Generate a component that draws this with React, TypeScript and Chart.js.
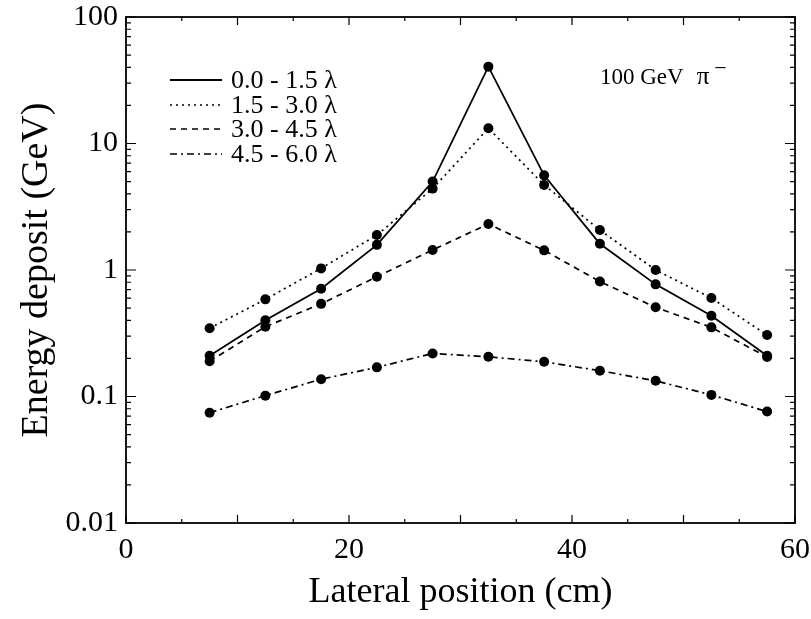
import React, { useEffect, useRef } from "react";
import { Chart, registerables } from "chart.js";

Chart.register(...registerables);

// ---- data ----
const positions = [7.5, 12.5, 17.5, 22.5, 27.5, 32.5, 37.5, 42.5, 47.5, 52.5, 57.5];
const dep00to15 = [0.21, 0.4, 0.71, 1.58, 5.0, 40.5, 5.6, 1.61, 0.77, 0.435, 0.21];
const dep15to30 = [0.346, 0.586, 1.03, 1.89, 4.4, 13.2, 4.7, 2.07, 1.0, 0.6, 0.306];
const dep30to45 = [0.19, 0.356, 0.54, 0.885, 1.44, 2.31, 1.43, 0.81, 0.507, 0.352, 0.205];
const dep45to60 = [0.0745, 0.1016, 0.137, 0.17, 0.219, 0.206, 0.188, 0.16, 0.133, 0.103, 0.076];

const seriesLabels = ["0.0 - 1.5 \u03bb", "1.5 - 3.0 \u03bb", "3.0 - 4.5 \u03bb", "4.5 - 6.0 \u03bb"];
const xTickValues = [0, 20, 40, 60];
const yTickValues = [0.01, 0.1, 1, 10, 100];
const yTickLabels = ["0.01", "0.1", "1", "10", "100"];
const xTitle = "Lateral position (cm)";
const yTitle = "Energy deposit (GeV)";
const beamLabel = "100 GeV";

const FONT = "'Liberation Serif', 'Times New Roman', serif";

const dashes: number[][] = [[], [2, 4], [6, 5], [7, 4, 2, 4]];

const framePlugin = {
  id: "frame",
  afterDraw(chart: any) {
    const ctx = chart.ctx as CanvasRenderingContext2D;
    const { left, right, top, bottom } = chart.chartArea;
    const ys = chart.scales.y;
    const xs = chart.scales.x;
    ctx.save();
    ctx.strokeStyle = "#000";
    ctx.lineWidth = 1.8;
    ctx.setLineDash([]);
    ctx.strokeRect(left, top, right - left, bottom - top);
    ctx.lineWidth = 1.2;
    ctx.beginPath();
    // y ticks (log, inward on left and right)
    for (let e = -2; e <= 2; e++) {
      for (let m = 1; m <= 9; m++) {
        const v = m * Math.pow(10, e);
        if (v > 100.0001) break;
        const py = ys.getPixelForValue(v);
        const len = m === 1 ? 10 : 5;
        ctx.moveTo(left, py);
        ctx.lineTo(left + len, py);
        ctx.moveTo(right, py);
        ctx.lineTo(right - len, py);
      }
    }
    // x ticks (inward on bottom and top)
    for (let v = 0; v <= 60; v += 5) {
      const px = xs.getPixelForValue(v);
      const len = v % 10 === 0 ? 8 : 4;
      ctx.moveTo(px, bottom);
      ctx.lineTo(px, bottom - len);
      ctx.moveTo(px, top);
      ctx.lineTo(px, top + len);
    }
    ctx.stroke();

    // legend
    const rows = [80, 105, 129, 154];
    chart.data.datasets.forEach((ds: any, i: number) => {
      const y = rows[i];
      ctx.beginPath();
      ctx.lineWidth = ds.borderWidth;
      ctx.setLineDash(ds.borderDash || []);
      ctx.moveTo(170, y);
      ctx.lineTo(222, y);
      ctx.stroke();
      ctx.setLineDash([]);
      ctx.fillStyle = "#000";
      ctx.font = `26px ${FONT}`;
      ctx.textBaseline = "middle";
      ctx.textAlign = "left";
      ctx.fillText(ds.label, 231, y + 1);
    });

    // beam annotation
    ctx.font = `23px ${FONT}`;
    ctx.textBaseline = "alphabetic";
    ctx.fillText(beamLabel, 600, 84);
    const w = ctx.measureText(beamLabel).width;
    ctx.font = `25px ${FONT}`;
    ctx.fillText("\u03c0", 600 + w + 13, 84);
    const wp = ctx.measureText("\u03c0").width;
    ctx.font = `22px ${FONT}`;
    ctx.fillText("\u2212", 600 + w + 13 + wp + 5, 75);
    ctx.restore();
  },
};

const zeroPad = (s: any) => {
  s.paddingTop = 0;
  s.paddingBottom = 0;
  s.paddingLeft = 0;
  s.paddingRight = 0;
};

export default function App() {
  const ref = useRef<HTMLCanvasElement | null>(null);
  useEffect(() => {
    if (!ref.current) return;
    const series = [dep00to15, dep15to30, dep30to45, dep45to60];
    const chart = new Chart(ref.current, {
      type: "line",
      data: {
        datasets: series.map((vals, i) => ({
          label: seriesLabels[i],
          data: positions.map((x, j) => ({ x, y: vals[j] })),
          borderColor: "#000",
          backgroundColor: "#000",
          borderWidth: i === 0 ? 1.8 : 1.7,
          borderDash: dashes[i],
          pointRadius: 5,
          pointBackgroundColor: "#000",
          pointBorderWidth: 0,
          tension: 0,
          fill: false,
        })),
      },
      options: {
        responsive: true,
        maintainAspectRatio: false,
        animation: false,
        layout: { autoPadding: false, padding: { top: 17, right: 16, left: 0, bottom: 0 } },
        plugins: { legend: { display: false }, tooltip: { enabled: false } },
        scales: {
          x: {
            type: "linear",
            min: 0,
            max: 60,
            afterBuildTicks: (s: any) => {
              s.ticks = xTickValues.map((v) => ({ value: v }));
            },
            afterFit: (s: any) => {
              s.height = 96;
              zeroPad(s);
            },
            grid: { display: false, drawTicks: false },
            border: { display: false },
            ticks: {
              color: "#000",
              font: { family: FONT, size: 30 },
              padding: 9,
              maxRotation: 0,
            },
            title: {
              display: true,
              text: xTitle,
              color: "#000",
              font: { family: FONT, size: 36 },
              padding: { top: 0, bottom: 5 },
            },
          },
          y: {
            type: "logarithmic",
            min: 0.01,
            max: 100,
            afterBuildTicks: (s: any) => {
              s.ticks = yTickValues.map((v) => ({ value: v }));
            },
            afterFit: (s: any) => {
              s.width = 126;
              zeroPad(s);
            },
            grid: { display: false, drawTicks: false },
            border: { display: false },
            ticks: {
              color: "#000",
              font: { family: FONT, size: 30 },
              padding: 8,
              callback: (v: any) => {
                const idx = yTickValues.findIndex((t) => Math.abs(t - Number(v)) < t * 1e-6);
                return idx >= 0 ? yTickLabels[idx] : "";
              },
            },
            title: {
              display: true,
              text: yTitle,
              color: "#000",
              font: { family: FONT, size: 38 },
              padding: { top: 14, bottom: 0 },
            },
          },
        },
      },
      plugins: [framePlugin],
    });
    return () => chart.destroy();
  }, []);
  return (
    <div style={{ position: "fixed", left: 0, top: 0, width: 811, height: 619, background: "#fff" }}>
      <canvas ref={ref} />
    </div>
  );
}
